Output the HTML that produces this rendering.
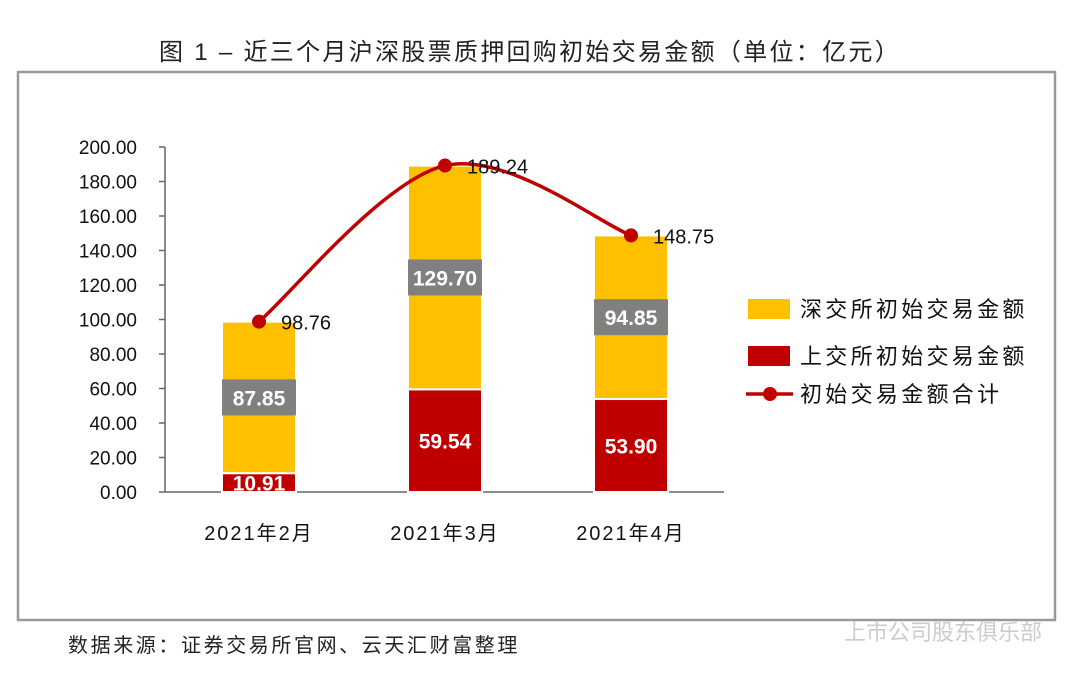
<!DOCTYPE html>
<html><head><meta charset="utf-8"><style>
body{margin:0;width:1080px;height:681px;background:#fff;overflow:hidden;font-family:"Liberation Sans","Noto Sans CJK SC",sans-serif;}
</style></head><body>
<svg width="1080" height="681" xmlns="http://www.w3.org/2000/svg" font-family="Liberation Sans, Noto Sans CJK SC, sans-serif">
<text x="530" y="60" text-anchor="middle" font-size="24" letter-spacing="2.3" fill="#222">图 1 – 近三个月沪深股票质押回购初始交易金额（单位：亿元）</text>
<rect x="18" y="72" width="1037" height="548" fill="none" stroke="#999" stroke-width="2.5"/>
<g id="plot"></g>
<text x="68" y="652" font-size="20" letter-spacing="2.6" fill="#222">数据来源：证券交易所官网、云天汇财富整理</text>
<text x="1042" y="640" text-anchor="end" font-size="22" fill="#ccc">上市公司股东俱乐部</text>
</svg>
<script>
const categories=["2021年2月","2021年3月","2021年4月"];
const shVals=[10.91,59.54,53.90];
const szVals=[87.85,129.70,94.85];
const totals=[98.76,189.24,148.75];
const yTicks=[0,20,40,60,80,100,120,140,160,180,200];
const NS="http://www.w3.org/2000/svg";
const g=document.getElementById('plot');
const y=v=>492-v*345/200;
const x=i=>259+i*186;
const bw=74;
function mk(t,a,txt){const e=document.createElementNS(NS,t);for(const k in a)e.setAttribute(k,a[k]);if(txt!==undefined)e.textContent=txt;g.appendChild(e);return e;}
let ax=mk('line',{x1:165,y1:147,x2:165,y2:492,stroke:'#666','stroke-width':1.5});

let xa=mk('line',{x1:165,y1:492,x2:724,y2:492,stroke:'#666','stroke-width':1.5});

yTicks.forEach(v=>{
 let tk=mk('line',{x1:159,y1:y(v),x2:165,y2:y(v),stroke:'#666','stroke-width':1.5});
 
 let t=mk('text',{x:137,y:y(v)+7,'text-anchor':'end','font-size':19,fill:'#111'},v.toFixed(2));
 
});
categories.forEach((c,i)=>{
 let t=mk('text',{x:x(i),y:540,'text-anchor':'middle','font-size':20,'letter-spacing':2,fill:'#111'},c);
 
 let r=mk('rect',{x:x(i)-bw/2,y:y(shVals[i]),width:bw,height:y(0)-y(shVals[i]),fill:'#C00000',stroke:'#fff','stroke-width':2});
 
 let r2=mk('rect',{x:x(i)-bw/2,y:y(shVals[i]+szVals[i]),width:bw,height:y(shVals[i])-y(shVals[i]+szVals[i]),fill:'#FFC000',stroke:'#fff','stroke-width':2});
 
 let cy=y(shVals[i]+szVals[i]/2);
 let b=mk('rect',{x:x(i)-bw/2,y:cy-18,width:bw,height:36,fill:'#808080'});
 
 let lt=mk('text',{x:x(i),y:cy+8,'text-anchor':'middle','font-size':21,'font-weight':'bold',fill:'#fff'},szVals[i].toFixed(2));
 
 let st=mk('text',{x:x(i),y:y(shVals[i]/2)+8,'text-anchor':'middle','font-size':21,'font-weight':'bold',fill:'#fff'},shVals[i].toFixed(2));
 
});
const P=totals.map((v,i)=>[x(i),y(v)]);
let d='M'+P[0][0]+','+P[0][1];
for(let i=0;i<P.length-1;i++){
 const p0=P[i-1]||P[i],p1=P[i],p2=P[i+1],p3=P[i+2]||P[i+1];
 const c1=[p1[0]+(p2[0]-p0[0])/6,p1[1]+(p2[1]-p0[1])/6],c2=[p2[0]-(p3[0]-p1[0])/6,p2[1]-(p3[1]-p1[1])/6];
 d+=` C${c1[0]},${c1[1]} ${c2[0]},${c2[1]} ${p2[0]},${p2[1]}`;
}
let ln=mk('path',{d:d,fill:'none',stroke:'#C00000','stroke-width':3.5});

P.forEach((p,i)=>{
 let c=mk('circle',{cx:p[0],cy:p[1],r:7,fill:'#C00000'});
 
 let t=mk('text',{x:p[0]+22,y:p[1]+8,'font-size':20,fill:'#111'},totals[i].toFixed(2));
 
});
const leg=[["深交所初始交易金额",'#FFC000',309],["上交所初始交易金额",'#C00000',356]];
leg.forEach(l=>{
 let r=mk('rect',{x:748,y:l[2]-10,width:42,height:20,fill:l[1]});
 
 let t=mk('text',{x:800,y:l[2]+8,'font-size':22,'letter-spacing':3.3,fill:'#111'},l[0]);
 
});
let ll=mk('line',{x1:746,y1:394,x2:793,y2:394,stroke:'#C00000','stroke-width':3.5});

let lc=mk('circle',{cx:770,cy:394,r:7,fill:'#C00000'});

let lt=mk('text',{x:800,y:402,'font-size':22,'letter-spacing':3.3,fill:'#111'},"初始交易金额合计");

</script>
</body></html>
